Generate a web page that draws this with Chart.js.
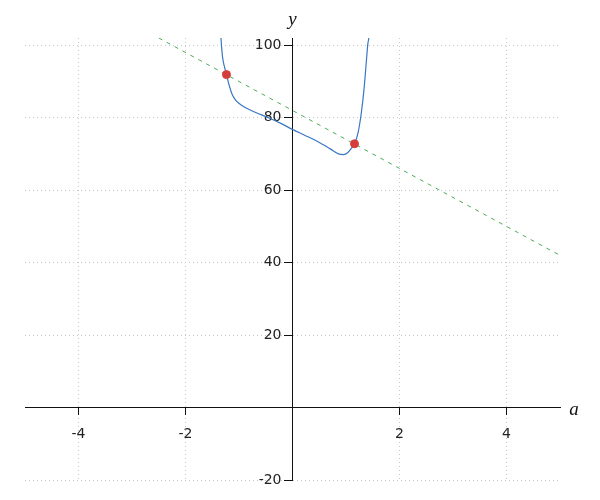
<!DOCTYPE html>
<html lang="en">
<head>
    <meta charset="UTF-8">
    <title>Curve and tangent line</title>
    <script src="https://cdn.jsdelivr.net/npm/chart.js"></script>
    <style>
        html, body { margin: 0; padding: 0; background: #fff; }
        #wrap { width: 600px; height: 500px; }
    </style>
</head>
<body>
    <div id="wrap"><canvas id="myChart"></canvas></div>
    <script>
        // valores
        const curveX = [-1.35, -1.338, -1.308, -1.271, -1.234, -1.183, -1.133, -1.071, -0.996, -0.884, -0.697, -0.449, -0.198, 0.007, 0.237, 0.486, 0.705, 0.86, 0.953, 1.036, 1.11, 1.159, 1.222, 1.284, 1.335, 1.372, 1.409, 1.428, 1.44];
        const curveY = [106, 102.3, 96.8, 94.0, 91.9, 88.9, 86.6, 85.0, 83.9, 82.8, 81.5, 80.0, 78.3, 76.7, 75.1, 73.3, 71.4, 70.0, 69.8, 70.4, 71.7, 72.8, 75.6, 81.1, 87.6, 94.0, 100.5, 102.3, 106];
        const lineX = [-2.5, 5];
        const lineY = [102, 42];
        const pointX = [-1.234, 1.159];
        const pointY = [91.9, 72.8];
        const xTicks = [-4, -2, 2, 4];
        const yTicks = [-20, 20, 40, 60, 80, 100];

        const toXY = (xs, ys) => xs.map((x, i) => ({ x: x, y: ys[i] }));

        // títulos dos eixos (y em cima, a à direita) + rótulos do eixo y afastados do eixo
        const axisExtras = {
            id: 'axisExtras',
            beforeDraw(chart) {
                const items = chart.scales.y.getLabelItems();
                items.forEach(it => {
                    if (!it._moved) {
                        it.options.translation[0] -= 11;
                        it._moved = true;
                    }
                });
            },
            afterDraw(chart) {
                const ctx = chart.ctx;
                const xs = chart.scales.x, ys = chart.scales.y;
                ctx.save();
                ctx.fillStyle = '#111';
                ctx.font = 'italic 19px "Liberation Serif"';
                ctx.textAlign = 'center';
                ctx.textBaseline = 'alphabetic';
                ctx.fillText('y', xs.getPixelForValue(0), chart.chartArea.top - 13);
                ctx.fillText('a', chart.chartArea.right + 14, ys.getPixelForValue(0) + 7);
                ctx.restore();
            }
        };

        const ctx = document.getElementById('myChart').getContext('2d');
        const myChart = new Chart(ctx, {
            type: 'scatter',
            data: {
                datasets: [
                    {
                        data: toXY(pointX, pointY),
                        backgroundColor: '#d43d3a',
                        borderColor: '#d43d3a',
                        pointRadius: 4,
                        order: 0
                    },
                    {
                        data: toXY(lineX, lineY),
                        showLine: true,
                        borderColor: '#4caa55',
                        borderWidth: 1,
                        borderDash: [4, 5],
                        pointRadius: 0,
                        order: 1
                    },
                    {
                        data: toXY(curveX, curveY),
                        showLine: true,
                        borderColor: '#3a76c2',
                        borderWidth: 1.2,
                        pointRadius: 0,
                        cubicInterpolationMode: 'monotone',
                        order: 2
                    }
                ]
            },
            options: {
                responsive: true,
                maintainAspectRatio: false,
                animation: false,
                layout: { padding: { left: 25, right: 40, top: 38, bottom: 20 } },
                plugins: { legend: { display: false }, tooltip: { enabled: false } },
                scales: {
                    x: {
                        type: 'linear',
                        min: -5,
                        max: 5,
                        position: { y: 0 },
                        afterBuildTicks: scale => { scale.ticks = xTicks.map(v => ({ value: v })); },
                        grid: { color: '#c8c8c8', lineWidth: 1, tickLength: 7, tickColor: '#111', tickBorderDash: [] },
                        border: { display: true, color: '#111', width: 1, dash: [1, 3] },
                        ticks: { color: '#222', font: { family: 'DejaVu Sans', size: 14 }, padding: 11, maxRotation: 0 }
                    },
                    y: {
                        type: 'linear',
                        min: -20,
                        max: 102,
                        position: { x: 0 },
                        afterBuildTicks: scale => { scale.ticks = yTicks.map(v => ({ value: v })); },
                        grid: { color: '#c8c8c8', lineWidth: 1, tickLength: 8, tickColor: '#111', tickBorderDash: [] },
                        border: { display: true, color: '#111', width: 1, dash: [1, 3] },
                        ticks: { color: '#222', font: { family: 'DejaVu Sans', size: 14 }, padding: 3 }
                    }
                }
            },
            plugins: [axisExtras]
        });
    </script>
</body>
</html>
